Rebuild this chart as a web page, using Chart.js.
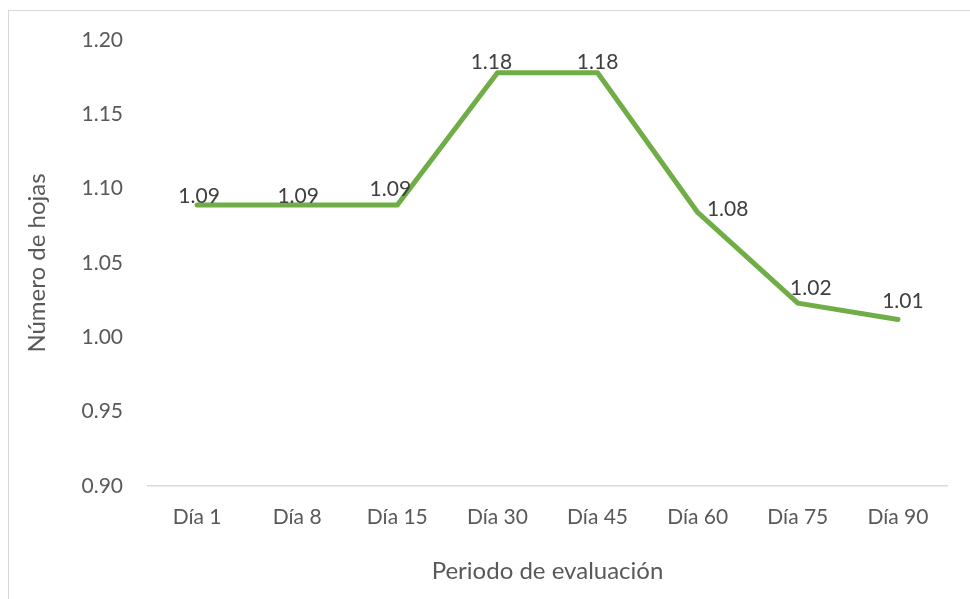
<!DOCTYPE html>
<html>
<head>
<meta charset="utf-8">
<script src="https://cdn.jsdelivr.net/npm/chart.js@4/dist/chart.umd.min.js"></script>
<style>
  html, body { margin: 0; padding: 0; background: #ffffff; }
  #wrap { width: 970px; height: 599px; position: relative; }
</style>
</head>
<body>
<div id="wrap"><canvas id="c" width="970" height="599"></canvas></div>
<script>
// Periodos de evaluación y número medio de hojas
const periodos = ['Día 1', 'Día 8', 'Día 15', 'Día 30', 'Día 45', 'Día 60', 'Día 75', 'Día 90'];
const numeroHojas = [1.089, 1.089, 1.089, 1.178, 1.178, 1.084, 1.023, 1.012];
const yTicks = [0.90, 0.95, 1.00, 1.05, 1.10, 1.15, 1.20];

const FONT = 'Lato, "Open Sans", sans-serif';
const TEXT = '#595959';

// Desplazamiento de cada etiqueta de valor respecto a su punto (px)
const labelShift = [[2, -9], [1, -9], [-7, -16], [-6, -10], [0, -10], [30, -3], [13, -15], [5, -18]];

const frame = {
  id: 'frame',
  beforeDraw(chart) {
    const ctx = chart.ctx;
    ctx.save();
    ctx.fillStyle = '#ffffff';
    ctx.fillRect(0, 0, chart.width, chart.height);
    ctx.strokeStyle = '#d9d9d9';
    ctx.lineWidth = 1;
    ctx.strokeRect(8.5, 10.5, chart.width + 10, chart.height + 10);
    ctx.restore();
  }
};

const valueLabels = {
  id: 'valueLabels',
  afterDatasetsDraw(chart) {
    const ctx = chart.ctx;
    const meta = chart.getDatasetMeta(0);
    const data = chart.data.datasets[0].data;
    ctx.save();
    ctx.font = '21px ' + FONT;
    ctx.fillStyle = '#404040';
    ctx.textAlign = 'center';
    ctx.textBaseline = 'middle';
    meta.data.forEach((pt, i) => {
      const [dx, dy] = labelShift[i];
      ctx.fillText(data[i].toFixed(2), pt.x + dx, pt.y + dy);
    });
    ctx.restore();
  }
};

new Chart(document.getElementById('c'), {
  type: 'line',
  data: {
    labels: periodos,
    datasets: [{
      data: numeroHojas,
      borderColor: '#70ad47',
      borderWidth: 5,
      borderCapStyle: 'round',
      borderJoinStyle: 'round',
      pointRadius: 0,
      pointHoverRadius: 0,
      tension: 0,
      fill: false
    }]
  },
  options: {
    responsive: false,
    animation: false,
    events: [],
    layout: { padding: { top: 40, right: 22, left: 0, bottom: 0 } },
    plugins: { legend: { display: false }, tooltip: { enabled: false } },
    scales: {
      x: {
        type: 'category',
        offset: true,
        grid: { display: false, drawTicks: false },
        border: { display: false },
        ticks: { color: TEXT, font: { family: FONT, size: 21 }, padding: 19, maxRotation: 0 },
        title: {
          display: true,
          text: 'Periodo de evaluación',
          color: TEXT,
          font: { family: FONT, size: 24 },
          padding: { top: 0, bottom: 13 }
        },
        afterFit(scale) { scale.height = 113; }
      },
      y: {
        min: 0.90,
        max: 1.20,
        afterBuildTicks(scale) { scale.ticks = yTicks.map(v => ({ value: v })); },
        grid: {
          drawTicks: false,
          color: c => (c.tick && Math.abs(c.tick.value - 0.90) < 1e-9) ? '#d9d9d9' : 'rgba(0,0,0,0)',
          lineWidth: 1.5
        },
        border: { display: false },
        ticks: {
          color: TEXT,
          font: { family: FONT, size: 21 },
          padding: 24,
          callback: v => Number(v).toFixed(2)
        },
        title: {
          display: true,
          text: 'Número de hojas',
          color: TEXT,
          font: { family: FONT, size: 24 },
          padding: { top: 23, bottom: 0 }
        },
        afterFit(scale) { scale.width = 147; }
      }
    }
  },
  plugins: [frame, valueLabels]
});
</script>
</body>
</html>
